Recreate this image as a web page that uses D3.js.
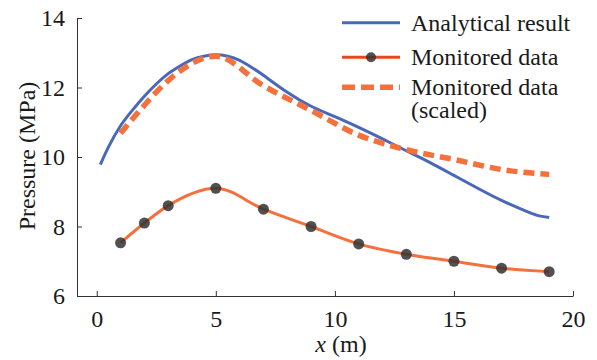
<!DOCTYPE html>
<html>
<head>
<meta charset="utf-8">
<script src="https://cdn.jsdelivr.net/npm/d3@7"></script>
<style>
  body { margin: 0; background: #fff; }
  svg { display: block; }
  svg text { font-family: "Liberation Serif", "Times New Roman", serif !important; }
</style>
</head>
<body>
<svg id="chart"></svg>
<script>
// analytical curve
const analyticX = [0.15, 0.5, 1, 1.5, 2, 2.5, 3, 3.5, 4, 4.5, 5, 5.5, 6, 6.5, 7, 8, 9, 10, 11, 12, 13, 14, 15, 16, 17, 18, 18.5, 19];
const analyticY = [9.78, 10.3, 10.9, 11.35, 11.75, 12.1, 12.4, 12.62, 12.8, 12.9, 12.94, 12.9, 12.78, 12.58, 12.35, 11.86, 11.46, 11.16, 10.85, 10.52, 10.18, 9.84, 9.47, 9.1, 8.75, 8.45, 8.32, 8.26];

// monitored points
const monX = [1, 2, 3, 5, 7, 9, 11, 13, 15, 17, 19];
const monY = [7.53, 8.1, 8.6, 9.1, 8.5, 8.0, 7.5, 7.2, 7.0, 6.8, 6.7];
const scaledY = [10.68, 11.49, 12.2, 12.9, 12.05, 11.34, 10.63, 10.21, 9.93, 9.64, 9.5];

const xTicks = [0, 5, 10, 15, 20];
const yTicks = [6, 8, 10, 12, 14];
const legendLabels = ["Analytical result", "Monitored data", ["Monitored data", "(scaled)"]];

const W = 597, H = 360;
const blue = "#4a68b9", orange = "#f4703c", orangeLeg = "#e8461c";

const svg = d3.select("#chart")
    .attr("width", W)
    .attr("height", H);

const x = d3.scaleLinear().domain([-0.83, 20]).range([77, 573]);
const y = d3.scaleLinear().domain([6, 14]).range([296, 18]);

// axes
const xAxis = svg.append("g")
    .attr("transform", `translate(0,${y(6)})`)
    .call(d3.axisBottom(x).tickValues(xTicks).tickSizeInner(-5).tickSizeOuter(0).tickPadding(14));
const yAxis = svg.append("g")
    .attr("transform", `translate(${x(-0.83)},0)`)
    .call(d3.axisLeft(y).tickValues(yTicks).tickSizeInner(-5).tickSizeOuter(0).tickPadding(12));

[xAxis, yAxis].forEach(a => {
  a.select(".domain").attr("stroke", "#333").attr("stroke-width", 1);
  a.selectAll(".tick line").attr("stroke", "#333");
  a.selectAll("text").attr("font-size", 24).attr("fill", "#1a1a1a");
});

// labels
svg.append("text")
    .attr("transform", `translate(35,${156}) rotate(-90)`)
    .attr("text-anchor", "middle")
    .attr("font-size", 24)
    .attr("fill", "#1a1a1a")
    .text("Pressure (MPa)");

const xl = svg.append("text")
    .attr("x", 341).attr("y", 352)
    .attr("text-anchor", "middle")
    .attr("font-size", 24)
    .attr("fill", "#1a1a1a");
xl.append("tspan").attr("font-style", "italic").text("x");
xl.append("tspan").text(" (m)");

// lines
const smooth = d3.line().x(d => x(d[0])).y(d => y(d[1])).curve(d3.curveNatural);
const line = d3.line().x(d => x(d[0])).y(d => y(d[1])).curve(d3.curveMonotoneX);

svg.append("path")
    .datum(analyticX.map((v, i) => [v, analyticY[i]]))
    .attr("fill", "none")
    .attr("stroke", blue)
    .attr("stroke-width", 3)
    .attr("d", smooth);

svg.append("path")
    .datum(monX.map((v, i) => [v, scaledY[i]]))
    .attr("fill", "none")
    .attr("stroke", orange)
    .attr("stroke-width", 5.5)
    .attr("stroke-dasharray", "11,6")
    .attr("d", line);

svg.append("path")
    .datum(monX.map((v, i) => [v, monY[i]]))
    .attr("fill", "none")
    .attr("stroke", orange)
    .attr("stroke-width", 3)
    .attr("d", line);

svg.append("g")
    .selectAll("circle")
    .data(monX.map((v, i) => [v, monY[i]]))
    .join("circle")
    .attr("cx", d => x(d[0]))
    .attr("cy", d => y(d[1]))
    .attr("r", 5.5)
    .attr("fill", "#333")
    .attr("fill-opacity", 0.85);

// legend
const lg = svg.append("g");
const lx0 = 342, lx1 = 400, tx = 411;
const rows = [22.7, 57.3, 87.3];

lg.append("line").attr("x1", lx0).attr("x2", lx1).attr("y1", rows[0]).attr("y2", rows[0])
    .attr("stroke", blue).attr("stroke-width", 3);
lg.append("line").attr("x1", lx0).attr("x2", lx1).attr("y1", rows[1]).attr("y2", rows[1])
    .attr("stroke", orangeLeg).attr("stroke-width", 3);
lg.append("circle").attr("cx", (lx0 + lx1) / 2).attr("cy", rows[1]).attr("r", 5)
    .attr("fill", "#333").attr("fill-opacity", 0.85);
lg.append("line").attr("x1", lx0).attr("x2", lx1).attr("y1", rows[2]).attr("y2", rows[2])
    .attr("stroke", orange).attr("stroke-width", 5.5).attr("stroke-dasharray", "13,6");

legendLabels.forEach((lab, i) => {
  const t = lg.append("text")
      .attr("x", tx).attr("y", rows[i] + 8)
      .attr("font-size", 24)
      .attr("fill", "#1a1a1a");
  if (Array.isArray(lab)) {
    t.text(lab[0]);
    lg.append("text").attr("x", tx).attr("y", rows[i] + 8 + 23)
        .attr("font-size", 24).attr("fill", "#1a1a1a").text(lab[1]);
  } else {
    t.text(lab);
  }
});
</script>
</body>
</html>
